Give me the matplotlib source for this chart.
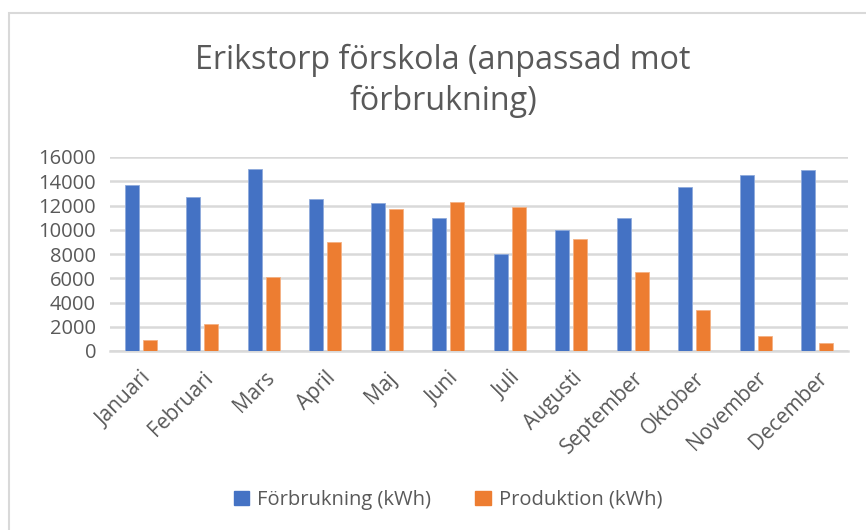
import matplotlib
matplotlib.use("Agg")
import matplotlib.pyplot as plt
from matplotlib.patches import Rectangle, Patch
import numpy as np

months = ["Januari", "Februari", "Mars", "April", "Maj", "Juni", "Juli",
          "Augusti", "September", "Oktober", "November", "December"]
forbrukning = [13700, 12700, 15000, 12500, 12200, 11000, 8000, 10000, 11000, 13500, 14500, 14900]
produktion = [900, 2200, 6100, 9000, 11700, 12300, 11900, 9200, 6500, 3400, 1200, 700]
yticks = [0, 2000, 4000, 6000, 8000, 10000, 12000, 14000, 16000]

title = "Erikstorp förskola (anpassad mot\nförbrukning)"
label_f = "Förbrukning (kWh)"
label_p = "Produktion (kWh)"

blue = "#4472C4"
orange = "#ED7D31"
txt = "#595959"
grid = "#D9D9D9"

plt.rcParams['font.family'] = ['Open Sans', 'DejaVu Sans']

W, H = 866, 530
fig = plt.figure(figsize=(W / 100, H / 100), dpi=100)

# chart border
fig.patches.append(Rectangle((9 / W, -0.1), 1.2, 1 - 13 / H + 0.1, transform=fig.transFigure,
                             fill=False, edgecolor=grid, lw=1.5))

ax = fig.add_axes([110 / W, 1 - 351 / H, 738 / W, 194 / H])
x = np.arange(len(months))
bw = 0.225
off = 0.145
ax.bar(x - off, forbrukning, bw, color=blue, edgecolor="#8FAADC", lw=0.6, zorder=3)
ax.bar(x + off, produktion, bw, color=orange, edgecolor="#F4B183", lw=0.6, zorder=3)

ax.set_xlim(-0.5, len(months) - 0.5)
ax.set_ylim(0, 16000)
ax.set_yticks(yticks)
ax.set_yticklabels([str(v) for v in yticks], fontsize=14.5, color=txt)
ax.yaxis.grid(True, color=grid, lw=1.8, zorder=0)
ax.set_axisbelow(True)
for s in ["top", "right", "left"]:
    ax.spines[s].set_visible(False)
ax.spines["bottom"].set_color(grid)
ax.spines["bottom"].set_linewidth(1.8)
ax.tick_params(axis="both", length=0)
ax.tick_params(axis="y", pad=10)
ax.set_xticks(x)
ax.set_xticklabels(months, rotation=45, ha="right", rotation_mode="anchor",
                   fontsize=15, color=txt)
ax.tick_params(axis="x", pad=12)

fig.text(443 / W, 1 - 81 / H, title, ha="center", va="center", fontsize=23.2,
         color=txt, linespacing=1.33)

handles = [Patch(color=blue, label=label_f), Patch(color=orange, label=label_p)]
fig.legend(handles=handles, loc="center", bbox_to_anchor=(448 / W, 1 - 500 / H),
           ncol=2, frameon=False, fontsize=14.5, labelcolor=txt,
           handlelength=0.75, handleheight=0.75, handletextpad=0.4, columnspacing=2.2)

fig.savefig("out.png", dpi=100)
